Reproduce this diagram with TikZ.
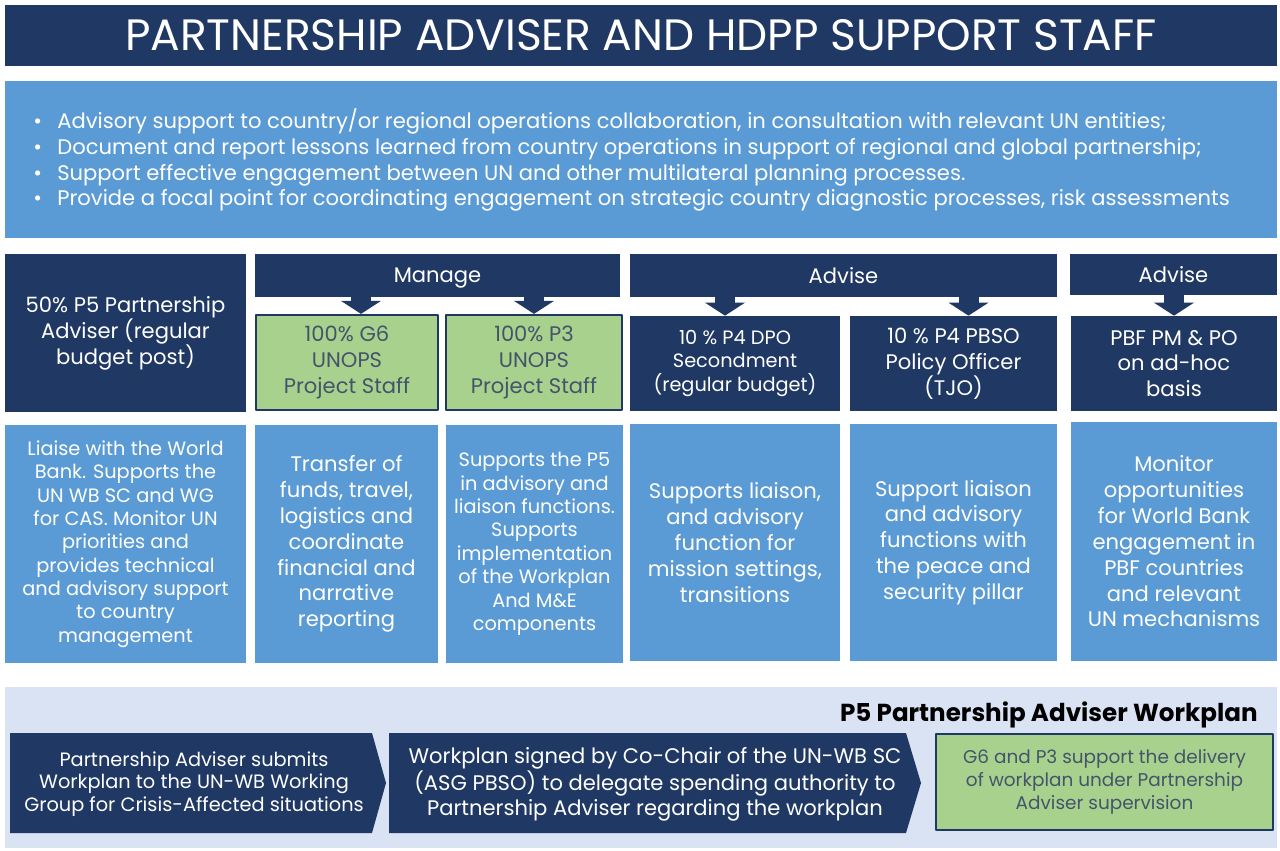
\documentclass[tikz,border=0pt]{standalone}
\usepackage{fontspec}
\setmainfont{Poppins}
\usetikzlibrary{arrows.meta}
\definecolor{navy}{HTML}{203864}
\definecolor{midblue}{HTML}{5B9BD5}
\definecolor{leaf}{HTML}{A9D18E}
\definecolor{panel}{HTML}{DAE3F3}
\definecolor{slate}{HTML}{44546A}
% box from corner (#2,#3) to corner (#4,#5), in pixels
\newcommand{\cellat}[7][]{%
  \node[#1, minimum width={(#5-#3)*0.2mm}, minimum height={(#6-#4)*0.2mm}]
    (#2) at ({(#3+#5)/2},{(#4+#6)/2}) {#7};}
\begin{document}
\begin{tikzpicture}[x=0.2mm, y=-0.2mm, line join=round,
    cell/.style={inner sep=0pt, align=center, text=white},
    dark/.style={cell, fill=navy},
    light/.style={cell, fill=midblue},
    staff/.style={cell, fill=leaf, draw=navy, line width=0.45mm, text=slate},
    bar/.style={dark, text depth=0pt, font=\fontsize{12}{14.7}\selectfont},
    big/.style={font=\fontsize{12}{14.7}\selectfont},
    small/.style={font=\fontsize{11}{13.3}\selectfont},
    down/.style={navy, line width=4mm, -{Triangle[width=8mm,length=2.6mm,line width=0pt]}}]
    \fill[white] (0,0) rectangle (1280,851);
    % heading and duties
    \cellat[dark, font=\fontsize{25}{28}\selectfont]{title}{5}{5}{1277}{66}
        {PARTNERSHIP ADVISER AND HDPP SUPPORT STAFF}
    \cellat[light]{duties}{5}{81}{1277}{238}{}
    \node[anchor=west, align=left, text=white, inner sep=0pt, font=\fontsize{12}{14.7}\selectfont] (bullets) at (33,160)
        {\makebox[4.8mm][l]{\textbullet}Advisory support to country/or regional operations collaboration, in consultation with relevant UN entities;\\
         \makebox[4.8mm][l]{\textbullet}Document and report lessons learned from country operations in support of regional and global partnership;\\
         \makebox[4.8mm][l]{\textbullet}Support effective engagement between UN and other multilateral planning processes.\\
         \makebox[4.8mm][l]{\textbullet}Provide a focal point for coordinating engagement on strategic country diagnostic processes, risk assessments};
    % staff row
    \cellat[dark, big]{lead}{5}{254}{246}{412}{50\% P5 Partnership\\Adviser (regular\\budget post)}
    \cellat[bar]{manage}{255}{254}{620}{297}{Manage}
    \cellat[bar]{advise}{630}{254}{1057}{297}{Advise}
    \cellat[bar]{adhoc}{1070}{254}{1277}{295}{Advise}
    \cellat[staff, big]{g6}{256}{315}{438}{410}{100\% G6\\UNOPS\\Project Staff}
    \cellat[staff, big]{p3}{446}{315}{622}{410}{100\% P3\\UNOPS\\Project Staff}
    \cellat[dark, small]{dpo}{630}{316}{840}{411}{10 \% P4 DPO\\Secondment\\(regular budget)}
    \cellat[dark, big]{pbso}{850}{316}{1057}{411}{10 \% P4 PBSO\\Policy Officer\\(TJO)}
    \cellat[dark, big]{pbf}{1071}{316}{1277}{411}{PBF PM \& PO\\on ad-hoc\\basis}
    \foreach \from/\to/\dx in {manage/g6/14, manage/p3/0, advise/dpo/-10, advise/pbso/15, adhoc/pbf/0}
        \draw[down] ([xshift=\dx*0.2mm]\from.south -| \to.north) -- ([xshift=\dx*0.2mm]\to.north);
    % what each one does
    \cellat[light, small]{leadtask}{5}{425}{246}{663}
        {Liaise with the World\\Bank. Supports the\\UN WB SC and WG\\for CAS. Monitor UN\\priorities and\\provides technical\\and advisory support\\to country\\management}
    \cellat[light, big]{g6task}{255}{425}{438}{663}
        {Transfer of\\funds, travel,\\logistics and\\coordinate\\financial and\\narrative\\reporting}
    \cellat[light, small]{p3task}{446}{425}{623}{663}
        {Supports the P5\\in advisory and\\liaison functions.\\Supports\\implementation\\of the Workplan\\And M\&E\\components}
    \cellat[light, big]{dpotask}{630}{424}{840}{661}
        {Supports liaison,\\and advisory\\function for\\mission settings,\\transitions}
    \cellat[light, big]{pbsotask}{850}{424}{1057}{661}
        {Support liaison\\and advisory\\functions with\\the peace and\\security pillar}
    \cellat[light, big]{pbftask}{1071}{422}{1277}{661}
        {Monitor\\opportunities\\for World Bank\\engagement in\\PBF countries\\and relevant\\UN mechanisms}
    % workplan steps
    \cellat[fill=panel, inner sep=0pt]{plan}{5}{687}{1277}{848}{}
    \node[anchor=east, inner sep=0pt, font=\fontsize{14}{16}\selectfont\bfseries] (plantitle) at (1258,715)
        {P5 Partnership Adviser Workplan};
    \fill[navy] (10,733) -- (372,733) -- (386,783) -- (372,833) -- (10,833) -- cycle;
    \fill[navy] (389,733) -- (906,733) -- (921,783) -- (906,833) -- (389,833) -- cycle;
    \node[cell, font=\fontsize{11}{13}\selectfont] (submit) at (194,784)
        {Partnership Adviser submits\\Workplan to the UN-WB Working\\Group for Crisis-Affected situations};
    \node[cell, font=\fontsize{12}{14.2}\selectfont] (signed) at (655,784)
        {Workplan signed by Co-Chair of the UN-WB SC\\(ASG PBSO) to delegate spending authority to\\Partnership Adviser regarding the workplan};
    \cellat[staff, font=\fontsize{10.5}{13}\selectfont]{deliver}{936}{734}{1273}{830}
        {G6 and P3 support the delivery\\of workplan under Partnership\\Adviser supervision}
\end{tikzpicture}
\end{document}
